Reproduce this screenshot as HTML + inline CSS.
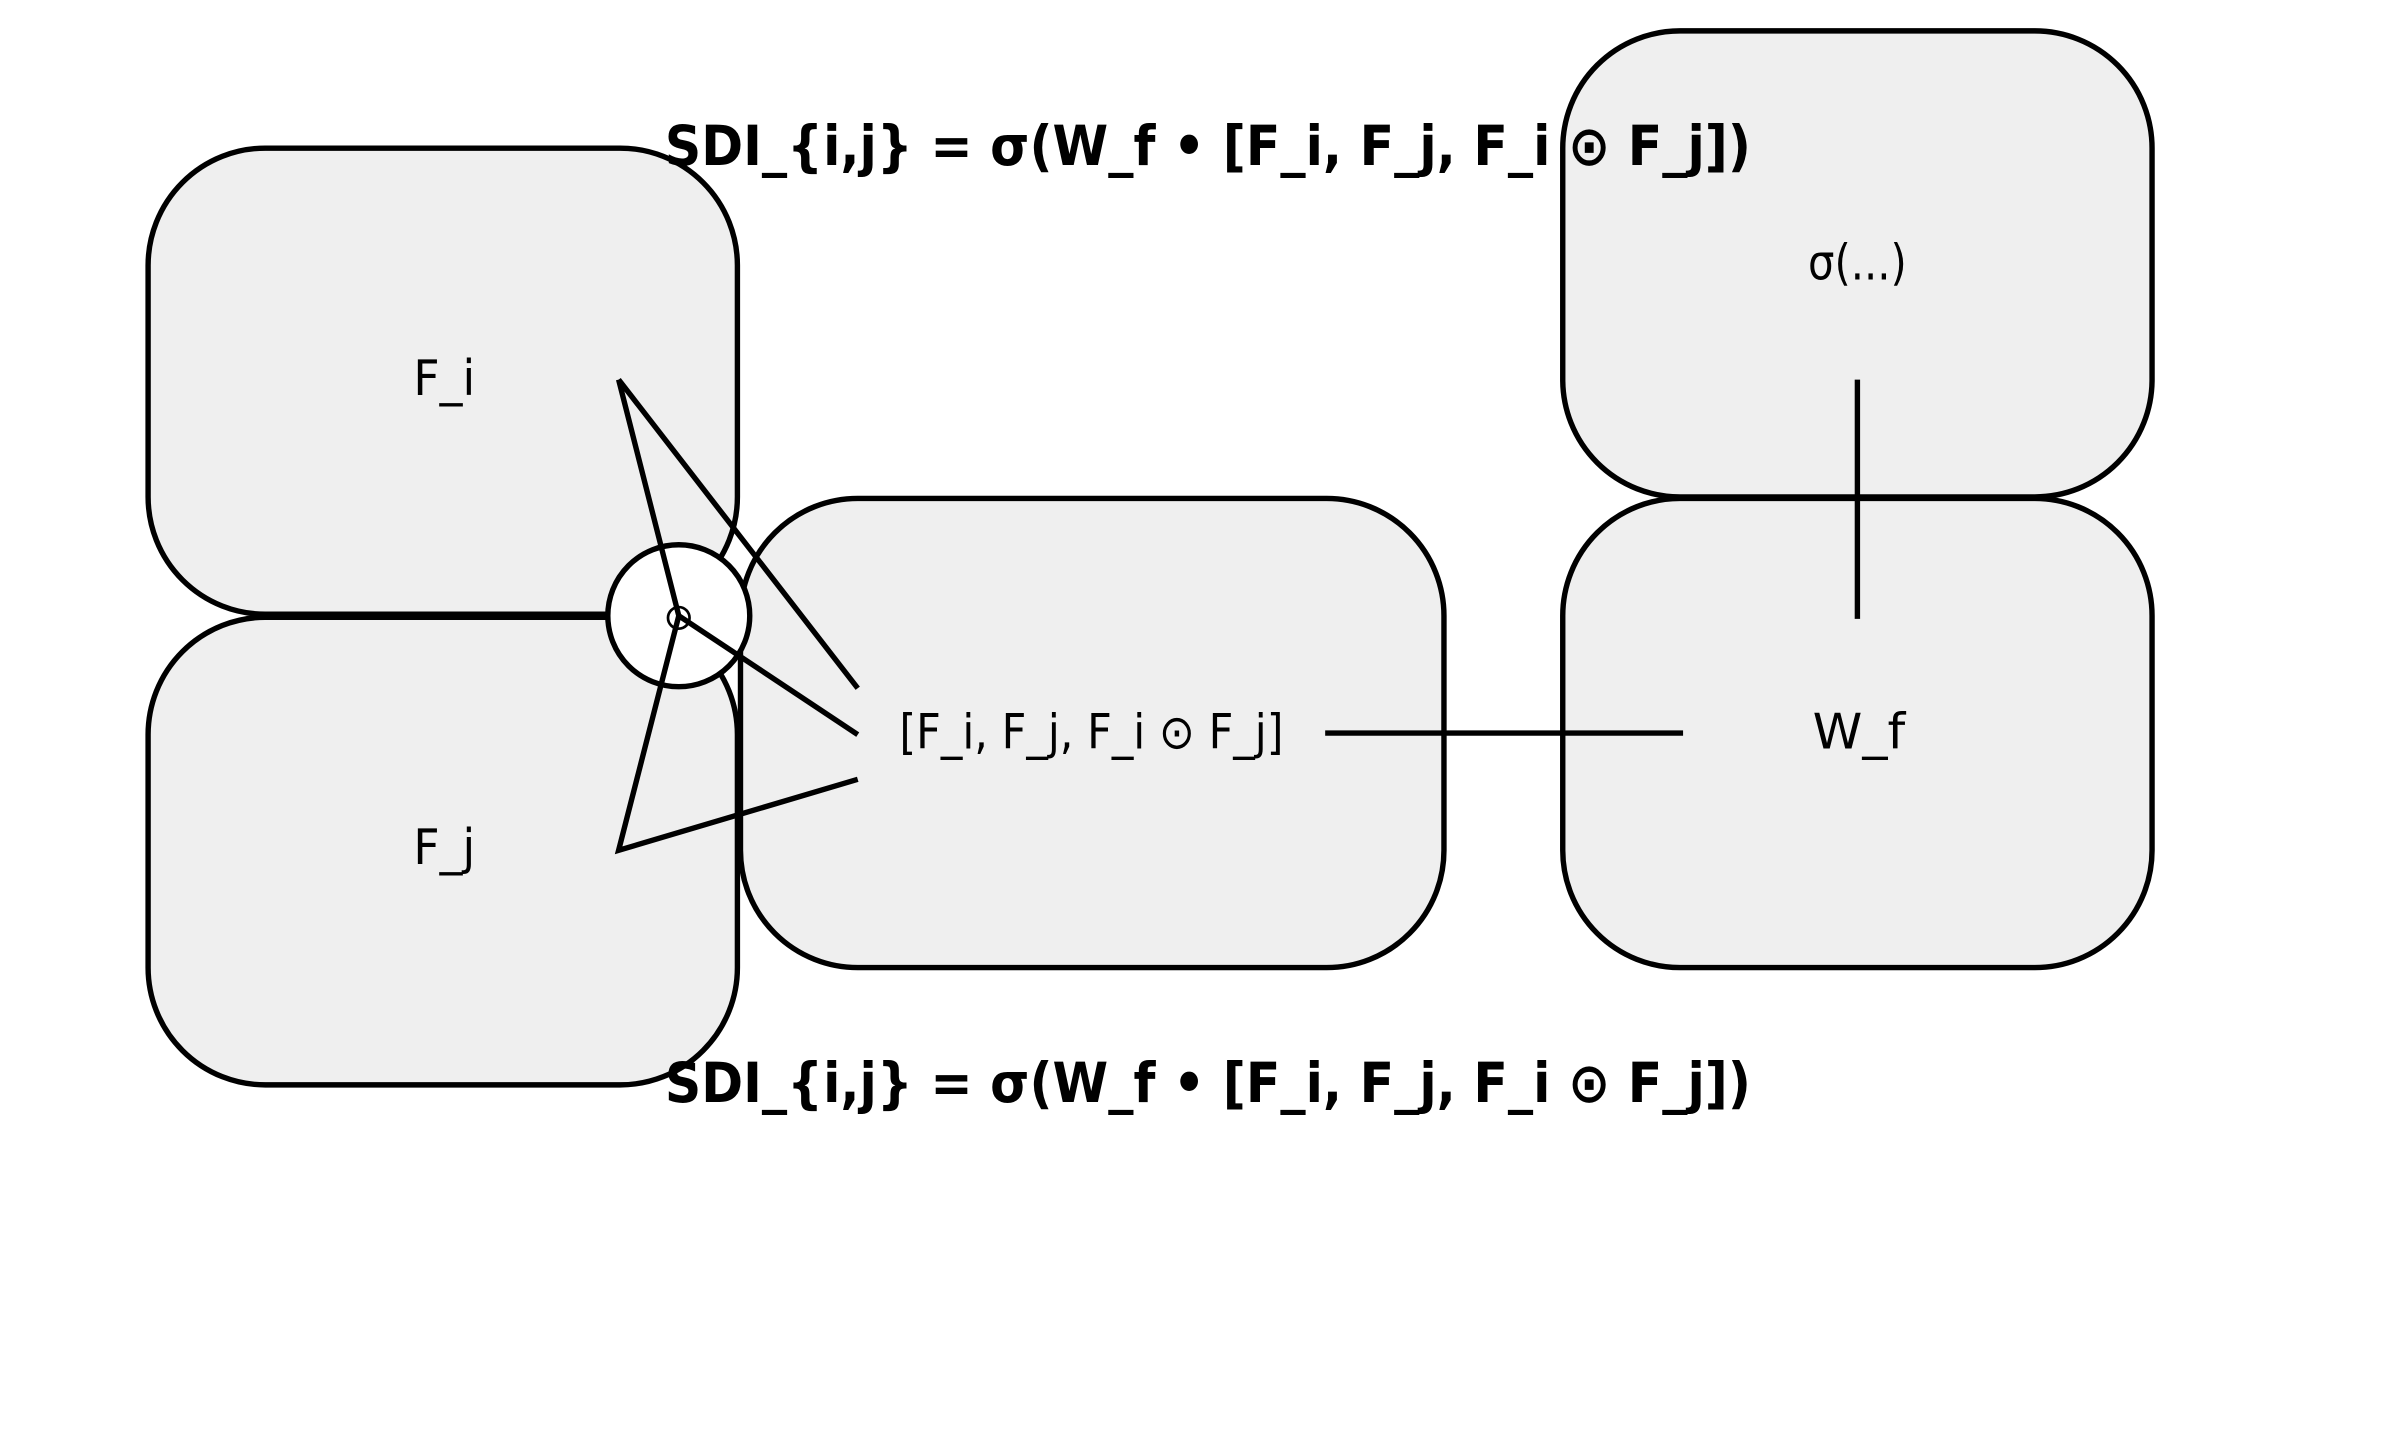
<!DOCTYPE html>
<html><head><meta charset="utf-8"><style>html,body{margin:0;padding:0;background:#fff;}svg{display:block}</style></head>
<body>
<svg width="2385" height="1446" viewBox="0 0 1546 937" preserveAspectRatio="none" xmlns="http://www.w3.org/2000/svg">
<g fill="#efefef" stroke="#000" stroke-width="3.5">
<rect x="96" y="96" width="382" height="302" rx="76"/>
<rect x="96" y="400" width="382" height="303" rx="76"/>
<rect x="480" y="323" width="456" height="304" rx="76"/>
<rect x="1013" y="323" width="382" height="304" rx="76"/>
<rect x="1013" y="20" width="382" height="302" rx="76"/>
<circle cx="440" cy="399" r="46" fill="#fff"/>
</g>
<g stroke="#000" stroke-width="3.5" fill="none">
<line x1="401" y1="246" x2="556" y2="446"/>
<polyline points="401,246 440,399 401,551 556,505"/>
<line x1="440" y1="399" x2="556" y2="476"/>
<line x1="859" y1="475" x2="1091" y2="475"/>
<line x1="1204" y1="246" x2="1204" y2="401"/>
</g>
<g font-family="'DejaVu Sans','Liberation Sans',sans-serif" fill="#000">
<text x="431" y="107" font-size="36" font-weight="bold" textLength="704" lengthAdjust="spacingAndGlyphs">SDI_{i,j} = σ(W_f • [F_i, F_j, F_i ⊙ F_j])</text>
<text x="431" y="714" font-size="36" font-weight="bold" textLength="704" lengthAdjust="spacingAndGlyphs">SDI_{i,j} = σ(W_f • [F_i, F_j, F_i ⊙ F_j])</text>
<text x="268" y="256" font-size="32" textLength="40" lengthAdjust="spacingAndGlyphs">F_i</text>
<text x="268" y="560" font-size="32" textLength="40" lengthAdjust="spacingAndGlyphs">F_j</text>
<text x="440" y="408" font-size="24" text-anchor="middle">⊙</text>
<text x="583" y="485" font-size="31" textLength="249" lengthAdjust="spacingAndGlyphs">[F_i, F_j, F_i ⊙ F_j]</text>
<text x="1175" y="485" font-size="32" textLength="60" lengthAdjust="spacingAndGlyphs">W_f</text>
<text x="1172" y="181" font-size="32" textLength="64" lengthAdjust="spacingAndGlyphs">σ(...)</text>
</g>
</svg>
</body></html>
